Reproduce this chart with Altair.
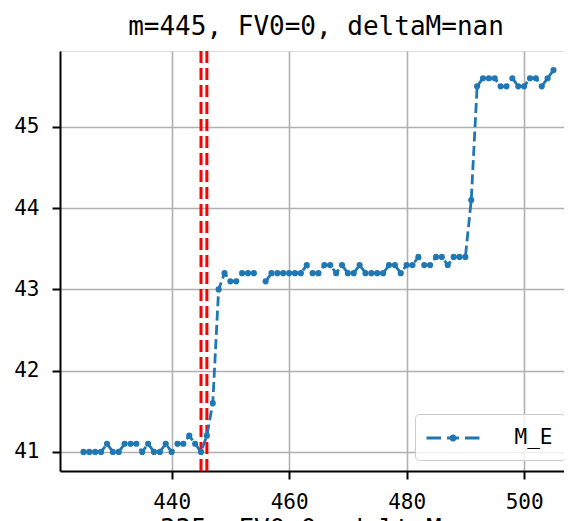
import altair as alt
import pandas as pd

# ---- data ----
m_values = list(range(425, 506))
m_e = [41.0, 41.0, 41.0, 41.0, 41.1, 41.0, 41.0, 41.1, 41.1, 41.1,   # 425-434
       41.0, 41.1, 41.0, 41.0, 41.1, 41.0, 41.1, 41.1, 41.2, 41.1,   # 435-444
       41.0, 41.2, 41.6, 43.0, 43.2, 43.1, 43.1, 43.2, 43.2, 43.2,   # 445-454
       None, 43.1, 43.2, 43.2, 43.2, 43.2, 43.2, 43.2, 43.3, 43.2,   # 455-464
       43.2, 43.3, 43.3, 43.2, 43.3, 43.2, 43.2, 43.3, 43.2, 43.2,   # 465-474
       43.2, 43.2, 43.3, 43.3, 43.2, 43.3, 43.3, 43.4, 43.3, 43.3,   # 475-484
       43.4, 43.4, 43.3, 43.4, 43.4, 43.4, 44.1, 45.5, 45.6, 45.6,   # 485-494
       45.6, 45.5, 45.5, 45.6, 45.5, 45.5, 45.6, 45.6, 45.5, 45.6,   # 495-504
       45.7]                                                         # 505
series_name = "M_E"
vline_positions = [445, 446]
x_ticks = [440, 460, 480, 500]
y_ticks = [41, 42, 43, 44, 45]
title_text = "m=445, FV0=0, deltaM=nan"
xlabel_text = "m=335, FV0=0, deltaM=nan"

df = pd.DataFrame({"m": m_values, "value": m_e, "series": [series_name] * len(m_values)})
vdf = pd.DataFrame({"m": vline_positions})

FONT = "DejaVu Sans Mono"
BLUE = "#1f77b4"

xscale = alt.Scale(domain=[421, 508.15], nice=False, zero=False)
yscale = alt.Scale(domain=[40.765, 45.935], nice=False, zero=False)

xaxis = alt.Axis(values=x_ticks, title=xlabel_text, titleFont=FONT, titleFontSize=26,
                 titleFontWeight="normal", titleColor="black", titleBaseline="top", titleY=45,
                 labelFont=FONT, labelFontSize=21, labelColor="black", labelPadding=12,
                 labelFlush=False, tickSize=8, tickWidth=2, tickColor="black",
                 domainColor="black", domainWidth=2, gridColor="#b0b0b0", gridWidth=1.6)
yaxis = alt.Axis(values=y_ticks, title=None, labelFont=FONT, labelFontSize=21,
                 labelColor="black", labelPadding=13, labelFlush=False, tickSize=8, tickWidth=2,
                 tickColor="black", domainColor="black", domainWidth=2,
                 gridColor="#b0b0b0", gridWidth=1.6)

legend_path = ("M-2.524,0H-1.143M-0.571,0H0.571M1.143,0H2.524"
               "M0.2,0A0.2,0.2,0,1,1,-0.2,0A0.2,0.2,0,1,1,0.2,0Z")

color = alt.Color("series:N", scale=alt.Scale(domain=[series_name], range=[BLUE]),
                  legend=alt.Legend(title=None, orient="none", legendX=355, legendY=363,
                                    padding=12, strokeColor="#cccccc", fillColor="rgba(255,255,255,0.8)",
                                    cornerRadius=4, symbolType=legend_path, symbolSize=441,
                                    symbolStrokeWidth=2.8, symbolDash=[1, 0],
                                    symbolFillColor=BLUE, symbolStrokeColor=BLUE,
                                    symbolOffset=14, labelOffset=49.5,
                                    labelFont=FONT, labelFontSize=21, labelColor="black"))

vlines = alt.Chart(vdf).mark_rule(color="red", strokeWidth=3, strokeDash=[12, 5]).encode(
    x=alt.X("m:Q", scale=xscale, axis=xaxis)
)

line = alt.Chart(df).mark_line(strokeWidth=2.8, strokeDash=[10, 4.3],
                               invalid="break-paths-show-domains").encode(
    x=alt.X("m:Q", scale=xscale, axis=xaxis),
    y=alt.Y("value:Q", scale=yscale, axis=yaxis),
    color=color,
)

points = alt.Chart(df).mark_circle(size=38, opacity=1).encode(
    x=alt.X("m:Q", scale=xscale, axis=xaxis),
    y=alt.Y("value:Q", scale=yscale, axis=yaxis),
    color=color,
)

chart = alt.layer(vlines, line, points).properties(
    width=512, height=420,
    title=alt.TitleParams(text=title_text, font=FONT, fontSize=26, fontWeight="normal",
                          color="black", anchor="middle", frame="group",
                          baseline="alphabetic", offset=13, dy=24),
    autosize=alt.AutoSizeParams(type="none"),
    padding={"left": 52, "top": 43, "right": -8, "bottom": 50},
).configure_view(stroke="black", strokeWidth=2).configure(background="white")

chart.save("out.html", embed_options={"renderer": "svg", "actions": False})
